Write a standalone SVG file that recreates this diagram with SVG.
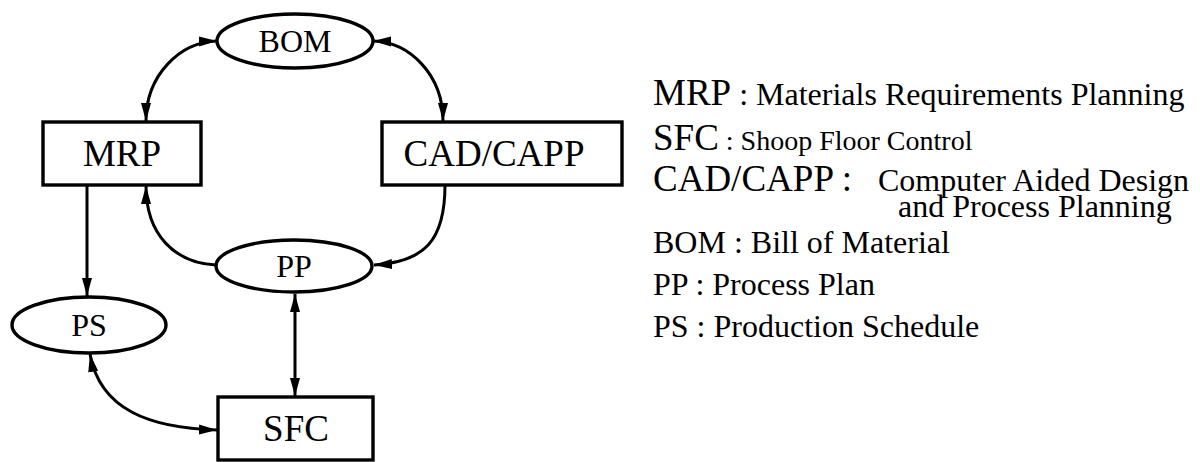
<svg xmlns="http://www.w3.org/2000/svg" width="1200" height="462" viewBox="0 0 1200 462">
  <style>
    .box { fill: #fff; stroke: #000; stroke-width: 3.4; }
    .ell { fill: #fff; stroke: #000; stroke-width: 3.4; }
    .lbl { font-family: "Liberation Serif", "Times New Roman", serif; fill: #000; text-anchor: middle; }
    .big { font-size: 37px; }
    .mid { font-size: 32px; }
    .leg { font-family: "Liberation Serif", "Times New Roman", serif; fill: #000; font-size: 32px; }
    .acr { font-size: 37px; }
    .sm { font-size: 28px; }
    .conn { fill: none; stroke: #000; stroke-width: 3; }
  </style>
  <defs>
    <marker id="ah" markerUnits="userSpaceOnUse" markerWidth="20" markerHeight="12" refX="18" refY="6" orient="auto-start-reverse">
      <path d="M0,1 L18,6 L0,11 Z" fill="#000"/>
    </marker>
  </defs>
  <rect width="1200" height="462" fill="#fff"/>

  <g id="connectors">
    <path class="conn" d="M217,41 C180,42 146,75 146,121" marker-start="url(#ah)" marker-end="url(#ah)"/>
    <path class="conn" d="M373,41 C410,42 443,75 443,121" marker-start="url(#ah)" marker-end="url(#ah)"/>
    <path class="conn" d="M87,185 L87,296" marker-end="url(#ah)"/>
    <path class="conn" d="M216,265 C175,263 146,235 146,186" marker-end="url(#ah)"/>
    <path class="conn" d="M445,185 C445,240 425,262 374,265" marker-end="url(#ah)"/>
    <path class="conn" d="M295,294 L295,396" marker-start="url(#ah)" marker-end="url(#ah)"/>
    <path class="conn" d="M90,354 C100,410 150,428 217,430" marker-start="url(#ah)" marker-end="url(#ah)"/>
  </g>

  <g id="BOM">
    <ellipse class="ell" cx="295" cy="41" rx="78" ry="27"/>
    <text class="lbl mid" x="295" y="52">BOM</text>
  </g>
  <g id="MRP">
    <rect class="box" x="43" y="122" width="158" height="63"/>
    <text class="lbl big" x="122" y="166">MRP</text>
  </g>
  <g id="CADCAPP">
    <rect class="box" x="382" y="122" width="240" height="63"/>
    <text class="lbl big" x="494" y="166">CAD/CAPP</text>
  </g>
  <g id="PP">
    <ellipse class="ell" cx="294" cy="266" rx="78" ry="26"/>
    <text class="lbl mid" x="294" y="277">PP</text>
  </g>
  <g id="PS">
    <ellipse class="ell" cx="89" cy="325" rx="77" ry="28"/>
    <text class="lbl mid" x="89" y="336">PS</text>
  </g>
  <g id="SFC">
    <rect class="box" x="218" y="397" width="155" height="63"/>
    <text class="lbl big" x="296" y="441">SFC</text>
  </g>

  <g id="legend">
    <text class="leg" x="653" y="105"><tspan class="acr">MRP</tspan> : Materials Requirements Planning</text>
    <text class="leg" x="653" y="150"><tspan class="acr">SFC</tspan><tspan class="sm"> : Shoop Floor Control</tspan></text>
    <text class="leg" x="653" y="191"><tspan class="acr">CAD/CAPP :</tspan></text>
    <text class="leg" x="878" y="191">Computer Aided Design</text>
    <text class="leg" x="898" y="217">and Process Planning</text>
    <text class="leg" x="653" y="253">BOM : Bill of Material</text>
    <text class="leg" x="653" y="295">PP : Process Plan</text>
    <text class="leg" x="653" y="337">PS : Production Schedule</text>
  </g>
</svg>
